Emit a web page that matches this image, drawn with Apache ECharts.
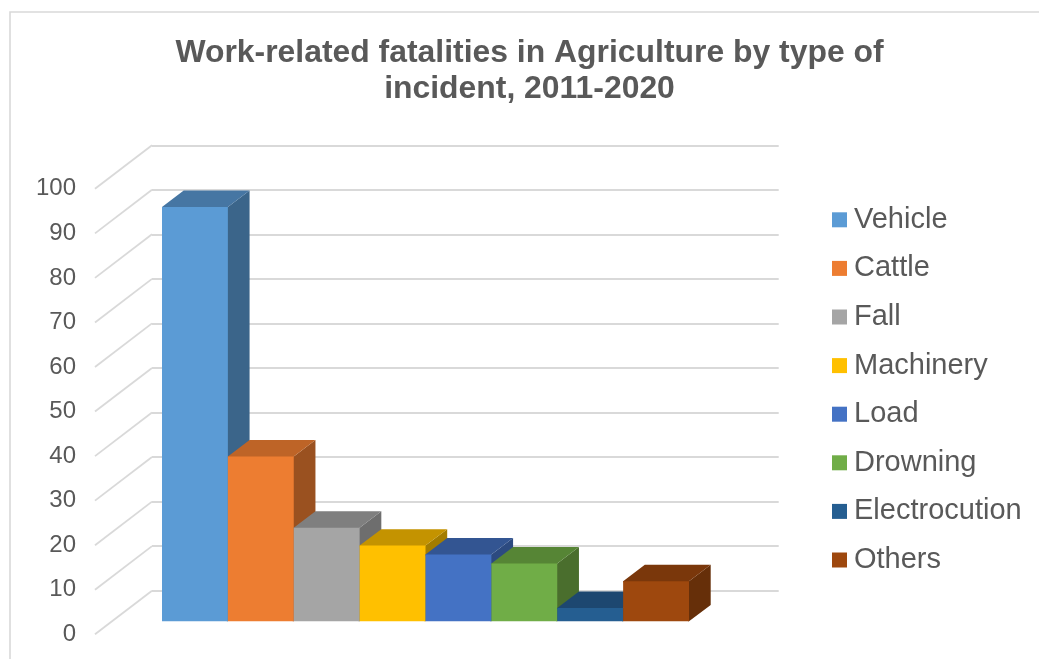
<!DOCTYPE html>
<html>
<head>
<meta charset="utf-8">
<style>html,body{margin:0;padding:0;background:#fff}#c{width:1039px;height:659px}</style>
<script src="https://cdn.jsdelivr.net/npm/echarts@6/dist/echarts.min.js"></script>
</head>
<body>
<div id="c"></div>
<script>
const titleText = 'Work-related fatalities in Agriculture by type of\nincident, 2011-2020';
const categories = ['Vehicle','Cattle','Fall','Machinery','Load','Drowning','Electrocution','Others'];
const values = [93,37,21,17,15,13,3,9];
const ticks = [0,10,20,30,40,50,60,70,80,90,100];
const colors = ['#5B9BD5','#ED7D31','#A5A5A5','#FFC000','#4472C4','#70AD47','#255E91','#9E480E'];
const topColors = ['#4676A3','#BE6427','#7F7F7F','#C49300','#335592','#568535','#1D4770','#7A370B'];
const sideColors = ['#3B658A','#9A5120','#6E6E6E','#A37C00','#2C4A80','#4A6E2D','#183C5E','#662F09'];

const DEPTH_X = 21.7, DEPTH_Y = 16.4;      // bar depth in pixels
const WALL_X = 57, WALL_Y = 43.6;          // side-wall depth in pixels
const OVERLAP = 1;                         // hidden overlap under the front face, closes anti-aliased seams

const chart = echarts.init(document.getElementById('c'), null, {renderer:'canvas'});

function barRender(i){
  return function(params, api){
    const idx = api.value(0), val = api.value(1);
    const top = api.coord([idx, val]);
    const base = api.coord([idx, 0]);
    const w = api.size([1, 0])[0];
    const x0 = top[0] - w/2, x1 = top[0] + w/2, yT = top[1], yB = base[1];
    const dx = DEPTH_X, dy = DEPTH_Y, o = OVERLAP;
    return {type:'group', children:[
      {type:'polygon', shape:{points:[[x1-o,yT],[x1,yT],[x1+dx,yT-dy],[x1+dx,yB-dy],[x1,yB],[x1-o,yB]]},
        style:{fill:sideColors[i]}},
      {type:'polygon', shape:{points:[[x0,yT],[x0+dx,yT-dy],[x1+dx,yT-dy],[x1,yT],[x1,yT+o],[x0,yT+o]]},
        style:{fill:topColors[i]}},
      {type:'rect', shape:{x:x0,y:yT,width:x1-x0,height:yB-yT},
        style:{fill:colors[i]}}
    ]};
  };
}

const barSeries = categories.map((name,i)=>({
  name, type:'custom', xAxisIndex:0, yAxisIndex:0, z:5, clip:false,
  itemStyle:{color:colors[i]},
  encode:{x:0,y:1}, silent:true,
  data:[[i, values[i]]],
  renderItem:barRender(i)
}));

const sideWall = {
  type:'custom', xAxisIndex:2, yAxisIndex:2, z:1, silent:true, clip:false,
  encode:{y:1}, data:ticks.map(t=>[0,t]),
  renderItem(params, api){
    const p = api.coord([0, api.value(1)]);
    return {type:'line', shape:{x1:p[0],y1:p[1],x2:p[0]+WALL_X,y2:p[1]-WALL_Y},
      style:{stroke:'#D9D9D9',lineWidth:1.8}};
  }
};

chart.setOption({
  animation:false,
  backgroundColor:'#fff',
  title:{text:titleText,left:524.5,textAlign:'center',top:29.5,
    textStyle:{fontFamily:'Liberation Sans',fontWeight:'bold',fontSize:31.9,lineHeight:36.6,color:'#595959'}},
  legend:{orient:'vertical',left:827,top:200.3,itemWidth:15,itemHeight:15,itemGap:19.6,
    icon:'rect',selectedMode:false,data:categories,
    textStyle:{fontFamily:'Liberation Sans',fontSize:29,color:'#595959',padding:[0,0,0,2]}},
  graphic:[{type:'polyline',silent:true,z:0,
    shape:{points:[[10,660],[10,12],[1040,12]]},
    style:{stroke:'#D9D9D9',lineWidth:1.6,fill:null}}],
  grid:[
    {left:162,top:175.8,width:527,height:445.5},
    {left:152,top:145.3,width:626.7,height:445.4},
    {left:95,top:188.8,width:57,height:445.5}
  ],
  xAxis:[
    {gridIndex:0,type:'category',data:categories,show:false},
    {gridIndex:1,type:'category',data:[''],show:false},
    {gridIndex:2,type:'category',data:['',''],boundaryGap:false,show:false}
  ],
  yAxis:[
    {gridIndex:0,type:'value',min:0,max:100,interval:10,show:false},
    {gridIndex:1,type:'value',min:0,max:100,interval:10,
      axisLine:{show:false},axisTick:{show:false},axisLabel:{show:false},
      splitLine:{show:true,lineStyle:{color:'#D9D9D9',width:1.8}}},
    {gridIndex:2,type:'value',min:0,max:100,interval:10,
      axisLine:{show:false},axisTick:{show:false},splitLine:{show:false},
      axisLabel:{margin:19,fontFamily:'Liberation Sans',fontSize:24,color:'#595959'}}
  ],
  series:[sideWall, ...barSeries]
});
</script>
</body>
</html>
